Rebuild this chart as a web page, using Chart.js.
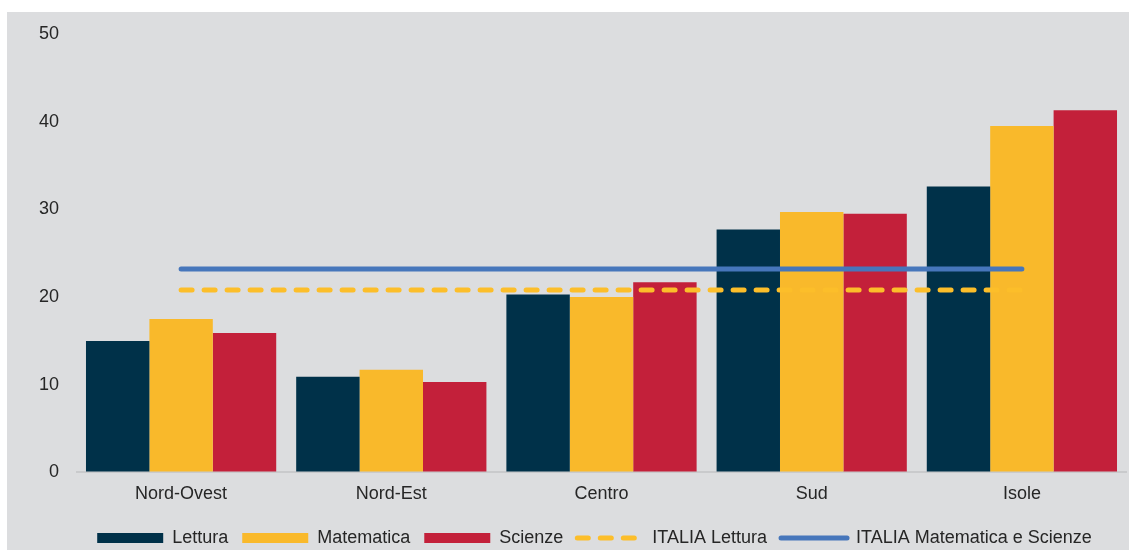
<!DOCTYPE html>
<html>
<head>
<meta charset="utf-8">
<script src="https://cdn.jsdelivr.net/npm/chart.js@4/dist/chart.umd.min.js"></script>
<style>
  html, body { margin: 0; padding: 0; background: #ffffff; }
  #wrap { position: absolute; left: 7px; top: 12px; width: 1122px; height: 538px; background: #dcdddf; }
</style>
</head>
<body>
<div id="wrap"><canvas id="chart"></canvas></div>
<script>
// categorie e valori (percentuali)
const regioni = ['Nord-Ovest', 'Nord-Est', 'Centro', 'Sud', 'Isole'];
const lettura = [15.0, 10.9, 20.3, 27.7, 32.6];
const matematica = [17.5, 11.7, 20.0, 29.7, 39.5];
const scienze = [15.9, 10.3, 21.7, 29.5, 41.3];
const italiaLettura = [20.8, 20.8, 20.8, 20.8, 20.8];
const italiaMatSci = [23.2, 23.2, 23.2, 23.2, 23.2];
const yTicks = [0, 10, 20, 30, 40, 50];

const FONT = { family: 'Arial, "Liberation Sans", sans-serif', size: 18 };
const TXT = '#262626';

// sposta un po' la legenda a sinistra come nell'originale
const legendShift = {
  id: 'legendShift',
  afterLayout(chart) {
    chart.legend.left -= 7;
    chart.legend.right -= 7;
  }
};

const ctx = document.getElementById('chart').getContext('2d');
new Chart(ctx, {
  data: {
    labels: regioni,
    datasets: [
      { type: 'bar', label: 'Lettura', data: lettura, backgroundColor: '#003149', order: 1 },
      { type: 'bar', label: 'Matematica', data: matematica, backgroundColor: '#f9b92b', order: 1 },
      { type: 'bar', label: 'Scienze', data: scienze, backgroundColor: '#c3203a', order: 1 },
      { type: 'line', label: 'ITALIA Lettura', data: italiaLettura, borderColor: '#fcbe2a',
        backgroundColor: '#fcbe2a', borderWidth: 5, borderDash: [11, 12], borderCapStyle: 'round',
        pointRadius: 0, order: 0 },
      { type: 'line', label: 'ITALIA Matematica e Scienze', data: italiaMatSci, borderColor: '#4676bb',
        backgroundColor: '#4676bb', borderWidth: 5, borderCapStyle: 'round', pointRadius: 0, order: 0 }
    ]
  },
  plugins: [legendShift],
  options: {
    responsive: true,
    maintainAspectRatio: false,
    animation: false,
    layout: { padding: { top: 22, right: 2, bottom: -7 } },
    datasets: { bar: { categoryPercentage: 0.905, barPercentage: 1 } },
    plugins: {
      tooltip: { enabled: false },
      legend: {
        position: 'bottom',
        fullSize: false,
        labels: {
          font: FONT,
          color: TXT,
          usePointStyle: true,
          pointStyleWidth: 66,
          boxHeight: 10,
          padding: 14,
          sort: (a, b) => a.datasetIndex - b.datasetIndex,
          generateLabels: chart => Chart.defaults.plugins.legend.labels.generateLabels(chart).map(item => {
            const ds = chart.data.datasets[item.datasetIndex];
            if (ds.type === 'line') {
              item.pointStyle = 'line';
              item.lineWidth = 5;
              item.strokeStyle = ds.borderColor;
              item.lineDash = ds.borderDash || [];
              item.lineCap = 'round';
            } else {
              item.pointStyle = 'rect';
              item.lineWidth = 0;
            }
            return item;
          })
        }
      }
    },
    scales: {
      x: {
        grid: { display: false },
        border: { display: false },
        afterFit: scale => { scale.height += 7; },
        ticks: { font: FONT, color: TXT, padding: 3 }
      },
      y: {
        min: 0,
        max: 50,
        afterBuildTicks: scale => { scale.ticks = yTicks.map(v => ({ value: v })); },
        afterFit: scale => { scale.width = 69; scale.paddingTop = 0; scale.paddingBottom = 0; },
        grid: {
          drawTicks: false,
          lineWidth: 2,
          color: c => c.tick.value === 0 ? '#c9cacc' : 'rgba(0,0,0,0)'
        },
        border: { display: false },
        ticks: { font: FONT, color: TXT, padding: 17 }
      }
    }
  }
});
</script>
</body>
</html>
